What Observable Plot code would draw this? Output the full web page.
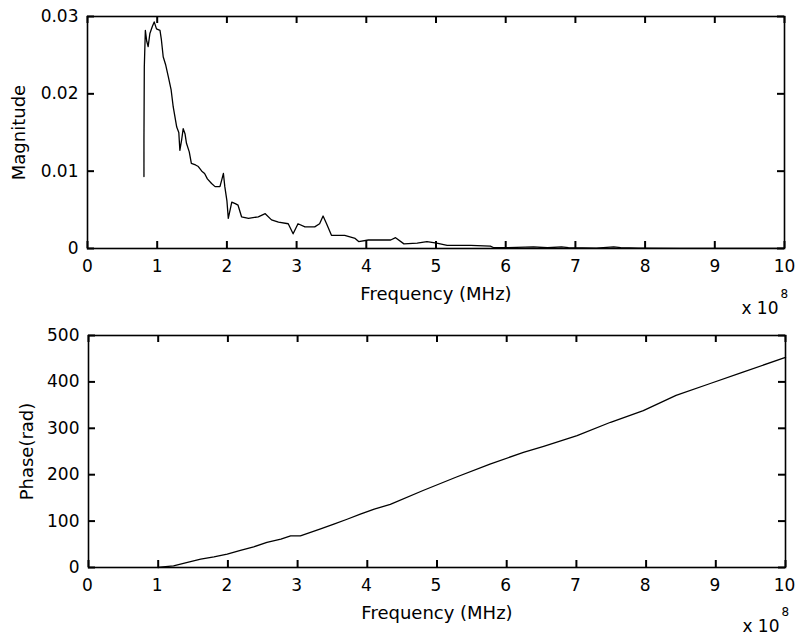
<!DOCTYPE html>
<html>
<head>
<meta charset="utf-8">
<script src="https://cdn.jsdelivr.net/npm/d3@7"></script>
<script src="https://cdn.jsdelivr.net/npm/@observablehq/plot@0.6"></script>
<style>
  body { margin: 0; background: white; }
  #chart svg { display: block; }
</style>
</head>
<body>
<div id="chart"></div>
<script>
// Frequency in units of 1e8 (axis shows "x 10^8")
const magFreq = [0.81,0.81,0.815,0.83,0.85,0.87,0.895,0.93,0.957,0.99,1.04,1.06,1.086,1.12,1.16,1.2,1.23,1.28,1.31,1.325,1.35,1.373,1.40,1.42,1.46,1.49,1.55,1.59,1.64,1.68,1.72,1.78,1.83,1.90,1.93,1.95,1.97,2.0,2.02,2.07,2.12,2.16,2.21,2.31,2.45,2.55,2.64,2.74,2.88,2.95,3.02,3.12,3.26,3.33,3.38,3.43,3.5,3.69,3.84,3.89,4.03,4.22,4.35,4.42,4.54,4.73,4.87,5.01,5.16,5.5,5.78,5.83,6.0,6.4,6.6,6.8,6.9,7.3,7.55,7.65,7.9,8.5,10];
const magValue = [0.0093,0.0140,0.0235,0.0282,0.0268,0.0261,0.0278,0.0287,0.0293,0.0284,0.0282,0.0270,0.0248,0.0238,0.0222,0.0205,0.0183,0.0157,0.0150,0.0127,0.0140,0.0155,0.0148,0.0136,0.0125,0.0110,0.0108,0.0106,0.0100,0.0097,0.0090,0.0084,0.0080,0.0080,0.0090,0.0097,0.0080,0.0062,0.0039,0.0060,0.0058,0.0056,0.0041,0.0039,0.0041,0.0045,0.0037,0.0034,0.0032,0.0019,0.0032,0.0028,0.0028,0.0032,0.0042,0.0032,0.0017,0.0017,0.0013,0.0009,0.0011,0.0011,0.0011,0.0014,0.0006,0.0007,0.0009,0.0007,0.0004,0.0004,0.0003,0.0001,0.0001,0.0002,0.0001,0.0002,0.0001,0.00005,0.0002,0.0001,0.00005,0.00002,0.00002];

const phaseFreq = [1.0,1.03,1.22,1.42,1.61,1.8,1.99,2.18,2.37,2.56,2.76,2.9,3.04,3.33,3.52,3.71,3.9,4.1,4.33,4.80,5.28,5.76,6.24,6.53,7.01,7.49,7.96,8.43,8.91,9.39,10.0];
const phaseValue = [0,1,3.6,10.8,18,23,29,37,44.6,54,61,68,68,83,93.5,104,115,126,136,166,195,223,248,261,284,313,338,371,396,421,453];

const xTicks = [0,1,2,3,4,5,6,7,8,9,10];
const magTicks = [0,0.01,0.02,0.03];
const phaseTicks = [0,100,200,300,400,500];

const magData = magFreq.map((f,i) => ({f, v: magValue[i]}));
const phaseData = phaseFreq.map((f,i) => ({f, v: phaseValue[i]}));

function panel({data, yDomain, yTicks, yFormat, yLabel, yLabelDx, height, marginTop, marginBottom, marginLeft, marginRight, expDy, xLabelDx}) {
  const W = 795;
  const xDomain = [0, 10];
  const fw = W - marginLeft - marginRight;
  const fh = height - marginTop - marginBottom;
  const tk = 7; // inward tick length in px
  const tickStyle = {stroke: "black", strokeWidth: 2};
  return Plot.plot({
    width: W, height, marginTop, marginBottom, marginLeft, marginRight,
    style: {fontFamily: "DejaVu Sans", fontSize: "17px"},
    x: {domain: xDomain},
    y: {domain: yDomain},
    marks: [
      Plot.line(data, {x: "f", y: "v", stroke: "black", strokeWidth: 1.3}),
      // inward ticks on all four sides
      Plot.ruleX(xTicks, {x: d => d, insetTop: fh - tk, ...tickStyle}),
      Plot.ruleX(xTicks, {x: d => d, insetBottom: fh - tk, ...tickStyle}),
      Plot.ruleY(yTicks, {y: d => d, insetRight: fw - tk, ...tickStyle}),
      Plot.ruleY(yTicks, {y: d => d, insetLeft: fw - tk, ...tickStyle}),
      Plot.frame({stroke: "black", strokeWidth: 1.6}),
      Plot.axisX({ticks: xTicks, tickSize: 0, tickPadding: 11, dx: xLabelDx, label: null, tickFormat: d => String(d), fill: "black"}),
      Plot.axisY({ticks: yTicks, tickSize: 0, tickPadding: 9, label: null, tickFormat: yFormat, fill: "black"}),
      Plot.text(["Frequency (MHz)"], {frameAnchor: "bottom", dy: 46, lineAnchor: "middle", textAnchor: "middle", text: d => d, fontSize: 18, fill: "black"}),
      Plot.text([yLabel], {frameAnchor: "left", dx: yLabelDx, rotate: -90, lineAnchor: "middle", textAnchor: "middle", text: d => d, fontSize: 18, fill: "black"}),
      Plot.text(["x 10"], {frameAnchor: "bottom-right", dx: -6, dy: expDy, lineAnchor: "middle", textAnchor: "end", text: d => d, fontSize: 17, fill: "black"}),
      Plot.text(["8"], {frameAnchor: "bottom-right", dx: -4, dy: expDy - 14, lineAnchor: "middle", textAnchor: "start", text: d => d, fontSize: 12, fill: "black"})
    ]
  });
}

const topPanel = panel({
  data: magData, yDomain: [0, 0.03], yTicks: magTicks,
  yFormat: d => d === 0 ? "0" : d.toFixed(2),
  yLabel: "Magnitude", yLabelDx: -68,
  height: 318, marginTop: 16, marginBottom: 70, marginLeft: 87, marginRight: 11, expDy: 60, xLabelDx: 0
});
const bottomPanel = panel({
  data: phaseData, yDomain: [0, 500], yTicks: phaseTicks,
  yFormat: d => String(d),
  yLabel: "Phase(rad)", yLabelDx: -61,
  height: 319, marginTop: 17, marginBottom: 70, marginLeft: 88, marginRight: 10, expDy: 59, xLabelDx: -1
});
document.getElementById("chart").append(topPanel, bottomPanel);
</script>
</body>
</html>
